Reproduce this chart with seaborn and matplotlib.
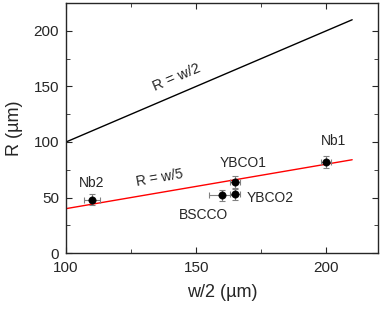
import matplotlib
matplotlib.use("Agg")
import matplotlib.pyplot as plt
import seaborn as sns
import numpy as np
import pandas as pd

sns.set_style("ticks")
plt.rcParams['font.family'] = ['Liberation Sans', 'DejaVu Sans']

names = ["Nb2", "BSCCO", "YBCO1", "YBCO2", "Nb1"]
w2 = [110, 160, 165, 165, 200]
R = [48, 52, 64, 53, 82]
xerr = [3, 5, 2, 2, 2]
yerr = [5, 5, 5, 5, 5]

line_x = [100, 210]
line_w2 = [100, 210]
line_w5 = [40, 84]

fig = plt.figure(figsize=(3.82, 3.09), dpi=100)
ax = fig.add_axes([0.173, 0.181, 0.817, 0.809])

sns.lineplot(x=line_x, y=line_w2, color="black", lw=1, ax=ax)
sns.lineplot(x=line_x, y=line_w5, color="red", lw=1, ax=ax)
ax.errorbar(w2, R, xerr=xerr, yerr=yerr, fmt="none", ecolor="gray", elinewidth=0.8, capsize=2, capthick=0.8, zorder=3)
df = pd.DataFrame({"w2": w2, "R": R})
sns.scatterplot(data=df, x="w2", y="R", color="black", s=28, edgecolor="black", ax=ax, zorder=4)

ax.set_xlim(100, 220)
ax.set_ylim(0, 225)
ax.set_xticks([100, 150, 200])
ax.set_xticks([125, 175], minor=True)
ax.set_yticks([0, 50, 100, 150, 200])
ax.set_yticks([25, 75, 125, 175], minor=True)
ax.tick_params(which="both", direction="in", top=True, right=True, labelsize=11)
ax.tick_params(axis="x", pad=6)
ax.tick_params(axis="y", pad=5)
ax.tick_params(which="major", length=4)
ax.tick_params(which="minor", length=3)
for s in ax.spines.values():
    s.set_linewidth(1)
ax.set_xlabel("w/2 (\u00b5m)", fontsize=13, labelpad=6)
ax.set_ylabel("R (\u00b5m)", fontsize=13, labelpad=8)

ax.text(110, 63, "Nb2", ha="center", va="center", fontsize=10)
ax.text(153, 34, "BSCCO", ha="center", va="center", fontsize=10)
ax.text(168, 81, "YBCO1", ha="center", va="center", fontsize=10)
ax.text(169.5, 50, "YBCO2", ha="left", va="center", fontsize=10)
ax.text(203, 101, "Nb1", ha="center", va="center", fontsize=10)
ax.text(136, 68, "R = w/5", ha="center", va="center", rotation=10, fontsize=10)
ax.text(142.5, 158, "R = w/2", ha="center", va="center", rotation=23, fontsize=10.5)

fig.savefig("out.png", dpi=100)
